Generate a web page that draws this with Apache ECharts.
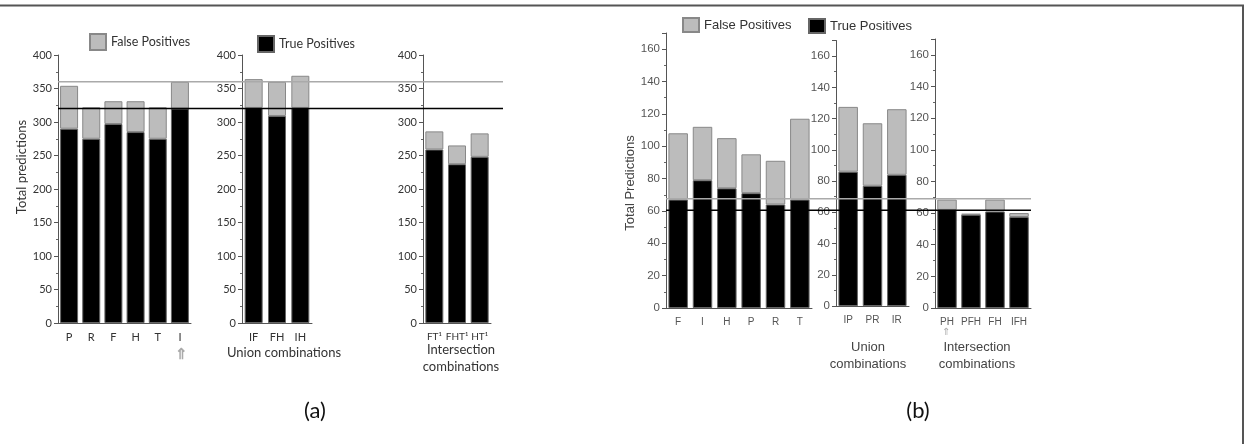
<!DOCTYPE html>
<html>
<head>
<meta charset="utf-8">
<script src="https://cdn.jsdelivr.net/npm/echarts@6/dist/echarts.min.js"></script>
<style>
  html, body { margin: 0; padding: 0; background: #fff; }
  #chart { width: 1249px; height: 444px; }
</style>
</head>
<body>
<div id="chart"></div>
<script>
// panel (a)
const catA1 = ['P', 'R', 'F', 'H', 'T', 'I'];
const totA1 = [354, 322, 331, 331, 322, 360];
const tpA1 = [290, 275, 297, 285, 275, 320];
const catA2 = ['IF', 'FH', 'IH'];
const totA2 = [364, 360, 369];
const tpA2 = [321, 309, 321];
const catA3 = ['FT¹', 'FHT¹', 'HT¹'];
const totA3 = [286, 265, 283];
const tpA3 = [259, 237, 248];
const refA = [360, 320];

// panel (b)
const catB1 = ['F', 'I', 'H', 'P', 'R', 'T'];
const totB1 = [108, 112, 105, 95, 91, 117];
const tpB1 = [67, 79, 74, 71, 64, 67];
const catB2 = ['IP', 'PR', 'IR'];
const totB2 = [127.5, 117, 126];
const tpB2 = [86, 77, 84];
const catB3 = ['PH', 'PFH', 'FH', 'IFH'];
const totB3 = [68.5, 59.5, 68.5, 60];
const tpB3 = [62, 59, 61, 57.5];
const refB = [67.5, 60.5];

const fontA = 'Lato';
const fontB = 'Liberation Sans';
const GRAY = '#bcbcbc';

let myChart = echarts.init(document.getElementById('chart'));

let grids = [
  { left: 58, top: 55, width: 133, height: 268 },
  { left: 242, top: 55, width: 70, height: 268 },
  { left: 423, top: 55, width: 68, height: 268 },
  { left: 666, top: 33, width: 146, height: 275 },
  { left: 836, top: 40.5, width: 73, height: 265.5 },
  { left: 935, top: 39, width: 96, height: 269 },
  // overlays for the reference lines
  { left: 58, top: 55, width: 445, height: 268 },
  { left: 666, top: 33, width: 365, height: 275 }
];

let panels = [
  { cats: catA1, tot: totA1, tp: tpA1, max: 400, step: 50, font: fontA, col: '#333', bw: 18, fs: 11, xfs: 11 },
  { cats: catA2, tot: totA2, tp: tpA2, max: 400, step: 50, font: fontA, col: '#333', bw: 18, fs: 11, xfs: 11 },
  { cats: catA3, tot: totA3, tp: tpA3, max: 400, step: 50, font: fontA, col: '#333', bw: 18, fs: 11, xfs: 10 },
  { cats: catB1, tot: totB1, tp: tpB1, max: 170, step: 20, font: fontB, col: '#555', bw: 19.5, fs: 11.5, xfs: 10 },
  { cats: catB2, tot: totB2, tp: tpB2, max: 170, step: 20, font: fontB, col: '#555', bw: 19.5, fs: 11.5, xfs: 10 },
  { cats: catB3, tot: totB3, tp: tpB3, max: 170, step: 20, font: fontB, col: '#555', bw: 19.5, fs: 11.5, xfs: 10 }
];

let xAxis = [], yAxis = [], series = [];
panels.forEach((p, i) => {
  xAxis.push({
    type: 'category', gridIndex: i, data: p.cats,
    axisLine: { lineStyle: { color: '#555' } },
    axisTick: { alignWithLabel: true, length: 4, lineStyle: { color: '#555' } },
    axisLabel: { interval: 0, color: p.col, fontFamily: p.font, fontSize: p.xfs, margin: 9 }
  });
  yAxis.push({
    type: 'value', gridIndex: i, min: 0, max: p.max, interval: p.step,
    axisLine: { show: true, lineStyle: { color: '#555' } },
    axisTick: { show: true, length: 4, lineStyle: { color: '#555' } },
    minorTick: { show: true, splitNumber: 2, length: 2, lineStyle: { color: '#666' } },
    splitLine: { show: false },
    axisLabel: { color: p.col, fontFamily: p.font, fontSize: p.fs, margin: 6, showMaxLabel: p.max % p.step === 0 }
  });
  series.push({
    name: 'True Positives', type: 'bar', stack: 's' + i, xAxisIndex: i, yAxisIndex: i,
    barWidth: p.bw, data: p.tp,
    itemStyle: { color: '#000', borderColor: '#666', borderWidth: 1 }
  });
  series.push({
    name: 'False Positives', type: 'bar', stack: 's' + i, xAxisIndex: i, yAxisIndex: i,
    barWidth: p.bw, data: p.tot.map((t, k) => +(t - p.tp[k]).toFixed(1)),
    itemStyle: { color: GRAY, borderColor: '#888', borderWidth: 1 }
  });
});

// reference lines
[[6, 400, refA], [7, 170, refB]].forEach(([g, mx, refs]) => {
  xAxis.push({ type: 'value', gridIndex: g, min: 0, max: 1, show: false });
  yAxis.push({ type: 'value', gridIndex: g, min: 0, max: mx, show: false });
  refs.forEach((v, k) => {
    series.push({
      type: 'line', xAxisIndex: g, yAxisIndex: g, symbol: 'none', silent: true, z: 5,
      data: [[0, v], [1, v]],
      lineStyle: { color: k === 0 ? '#aaa' : '#000', width: 1.5 }
    });
  });
});

function legendAt(name, left, top, font, size, h) {
  return {
    data: [name], left: left, top: top, itemWidth: 16, itemHeight: h,
    icon: 'rect', selectedMode: false, padding: 0,
    textStyle: { fontFamily: font, fontSize: size, color: '#333' }
  };
}

let option = {
  animation: false,
  color: ['#000', GRAY],
  grid: grids,
  xAxis: xAxis,
  yAxis: yAxis,
  legend: [
    legendAt('False Positives', 89, 33, fontA, 12.5, 16),
    legendAt('True Positives', 257, 35, fontA, 12.5, 16),
    legendAt('False Positives', 682, 17, fontB, 13, 14),
    legendAt('True Positives', 808, 18, fontB, 13, 14)
  ],
  series: series,
  graphic: [
    { type: 'line', shape: { x1: 0, y1: 5.5, x2: 1244, y2: 5.5 }, style: { stroke: '#555', lineWidth: 2 } },
    { type: 'line', shape: { x1: 1243, y1: 5, x2: 1243, y2: 444 }, style: { stroke: '#555', lineWidth: 2 } },
    { type: 'text', x: 22, y: 167, rotation: Math.PI / 2,
      style: { text: 'Total predictions', fontFamily: fontA, fontSize: 13, fill: '#333', align: 'center', verticalAlign: 'middle' } },
    { type: 'text', x: 630, y: 183, rotation: Math.PI / 2,
      style: { text: 'Total Predictions', fontFamily: fontB, fontSize: 13, fill: '#444', align: 'center', verticalAlign: 'middle' } },
    { type: 'text', x: 284, y: 353,
      style: { text: 'Union combinations', fontFamily: fontA, fontSize: 13, fill: '#333', align: 'center', verticalAlign: 'middle' } },
    { type: 'text', x: 461, y: 358,
      style: { text: 'Intersection\ncombinations', fontFamily: fontA, fontSize: 13, lineHeight: 17, fill: '#333', align: 'center', verticalAlign: 'middle' } },
    { type: 'text', x: 868, y: 356,
      style: { text: 'Union\ncombinations', fontFamily: fontB, fontSize: 13, lineHeight: 17, fill: '#444', align: 'center', verticalAlign: 'middle' } },
    { type: 'text', x: 977, y: 356,
      style: { text: 'Intersection\ncombinations', fontFamily: fontB, fontSize: 13, lineHeight: 17, fill: '#444', align: 'center', verticalAlign: 'middle' } },
    { type: 'text', x: 181, y: 355,
      style: { text: '⇑', fontSize: 15, fontWeight: 'bold', fill: '#aaa', align: 'center', verticalAlign: 'middle' } },
    { type: 'text', x: 946, y: 332,
      style: { text: '⇑', fontSize: 10, fill: '#aaa', align: 'center', verticalAlign: 'middle' } },
    { type: 'text', x: 315, y: 411,
      style: { text: '(a)', fontFamily: fontA, fontSize: 22, fill: '#111', align: 'center', verticalAlign: 'middle' } },
    { type: 'text', x: 918, y: 411,
      style: { text: '(b)', fontFamily: fontA, fontSize: 22, fill: '#111', align: 'center', verticalAlign: 'middle' } }
  ]
};

myChart.setOption(option);
window.addEventListener('resize', () => {
  myChart.resize();
});
</script>
</body>
</html>
